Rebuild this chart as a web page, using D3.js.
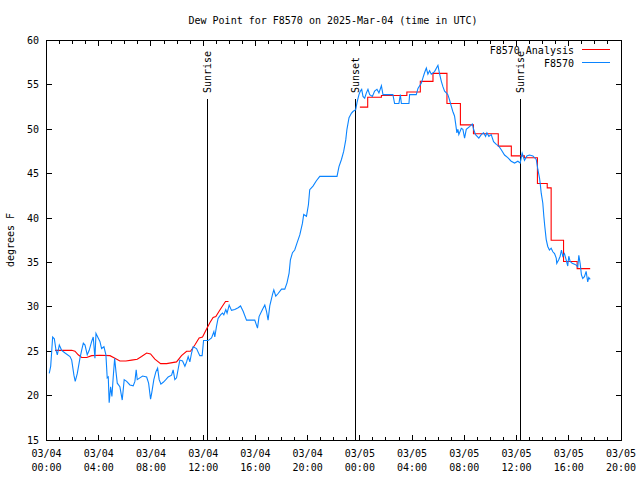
<!DOCTYPE html>
<html><head><meta charset="utf-8">
<script src="https://cdn.jsdelivr.net/npm/d3@7"></script>
<style>body{margin:0;background:#fff}svg{display:block}text{font-family:"DejaVu Sans Mono",monospace;font-size:10px;fill:#000}</style>
</head><body><svg id="c" width="640" height="480"></svg>
<script>
// ---- data (hours since 2025-03-04 00:00 UTC) ----
const title = "Dew Point for F8570 on 2025-Mar-04 (time in UTC)";
const yLabel = "degrees F";
const yTicks = [15,20,25,30,35,40,45,50,55,60];
const xTickHours = [0,4,8,12,16,20,24,28,32,36,40,44];
const xTickDates = ["03/04","03/04","03/04","03/04","03/04","03/04","03/05","03/05","03/05","03/05","03/05","03/05"];
const xTickTimes = ["00:00","04:00","08:00","12:00","16:00","20:00","00:00","04:00","08:00","12:00","16:00","20:00"];
const eventNames = ["Sunrise","Sunset","Sunrise"];
const eventHours = [12.33,23.63,36.28];
const seriesNames = ["F8570 Analysis","F8570"];

const obsHours = [0.21,0.32,0.40,0.47,0.60,0.73,0.83,0.98,1.16,1.42,1.80,1.93,2.10,2.20,2.36,2.56,2.69,2.82,2.95,3.12,3.27,3.46,3.58,3.71,3.79,3.96,4.09,4.22,4.40,4.55,4.65,4.73,4.80,4.91,5.01,5.11,5.22,5.32,5.42,5.62,5.80,5.95,6.14,6.39,6.64,6.77,6.87,6.95,7.15,7.36,7.67,7.82,7.97,8.07,8.22,8.38,8.51,8.63,8.76,8.94,9.14,9.32,9.58,9.70,9.83,9.96,10.21,10.42,10.60,10.73,10.85,10.98,11.11,11.23,11.49,11.74,11.92,12.03,12.38,12.64,12.82,12.89,13.02,13.14,13.33,13.48,13.58,13.73,13.83,13.99,14.17,14.42,14.68,14.86,15.06,15.32,15.95,16.16,16.28,16.54,16.72,16.85,16.97,17.10,17.31,17.41,17.56,17.74,18.00,18.25,18.42,18.58,18.68,18.84,19.01,19.19,19.40,19.60,19.70,19.91,20.06,20.16,20.41,20.67,20.93,22.25,22.40,22.59,22.76,22.92,23.01,23.17,23.35,23.47,23.68,23.78,23.93,24.04,24.14,24.24,24.37,24.50,24.62,24.75,24.96,25.13,25.31,25.46,25.65,25.77,26.53,26.66,26.99,27.10,27.18,27.76,27.81,28.32,28.45,28.71,28.83,28.96,29.09,29.21,29.34,29.47,29.72,29.98,30.11,30.24,30.36,30.49,30.62,30.74,30.87,31.00,31.12,31.25,31.33,31.43,31.51,31.58,31.77,31.89,32.02,32.15,32.40,32.61,32.71,32.86,33.11,33.30,33.47,33.63,33.73,33.88,34.06,34.24,34.45,34.64,34.83,35.08,35.33,35.59,35.85,36.10,36.28,36.43,36.61,36.79,36.99,37.25,37.51,37.63,37.76,37.81,37.89,38.01,38.09,38.16,38.27,38.39,38.52,38.65,38.78,38.91,39.04,39.08,39.23,39.34,39.44,39.54,39.67,39.80,39.92,40.00,40.11,40.26,40.44,40.57,40.69,40.77,40.87,40.97,41.07,41.20,41.33,41.45,41.53,41.64];
const obsValues = [22.5,23.3,25.0,26.6,26.4,25.1,24.6,25.7,25.1,24.8,24.4,24.0,22.3,21.6,22.5,24.2,25.1,25.9,25.7,24.6,25.1,26.1,26.6,24.2,27.0,26.5,26.1,25.3,25.5,24.6,22.0,22.1,19.2,21.0,19.9,22.1,24.2,22.7,21.4,21.0,19.5,21.8,21.6,21.2,21.1,21.6,22.9,21.8,22.0,22.2,22.1,21.4,19.6,20.4,21.8,22.7,23.1,21.8,21.3,21.5,21.8,22.1,22.3,22.9,21.8,22.0,24.0,23.9,23.3,23.8,24.4,23.8,24.8,25.5,25.3,24.5,24.5,26.2,26.2,26.5,27.2,26.6,27.8,28.7,29.1,29.3,29.1,29.7,29.3,30.2,29.6,29.7,29.9,30.1,29.5,28.5,28.5,27.6,28.9,29.7,30.2,29.5,28.5,30.1,31.4,31.9,31.2,31.5,32.0,32.0,32.7,33.8,35.3,36.1,36.4,37.2,38.1,39.4,40.4,40.2,41.5,43.2,43.6,44.2,44.7,44.7,45.8,46.6,47.5,48.8,50.0,51.3,51.8,52.0,52.2,53.0,53.9,54.3,54.5,53.7,53.5,54.1,54.5,53.9,53.7,54.3,54.5,54.1,54.9,53.9,53.9,52.9,52.9,53.9,52.9,52.9,53.9,53.9,54.6,55.2,55.8,56.4,56.9,56.2,56.6,56.2,56.5,57.2,56.2,55.4,54.8,54.3,54.1,53.9,53.3,52.6,52.0,51.5,50.7,49.6,50.0,49.4,50.1,50.0,49.0,50.0,50.3,50.6,50.0,49.4,49.0,49.4,49.6,49.2,49.6,49.2,49.4,48.6,48.3,48.1,47.7,47.1,46.8,46.4,46.2,46.4,46.2,47.3,46.5,47.0,47.1,47.0,46.6,45.5,44.5,43.9,42.8,41.7,40.2,39.1,37.6,36.8,36.4,36.6,36.2,36.0,35.5,34.9,35.3,35.7,36.4,35.7,36.0,35.3,34.6,35.7,35.1,34.9,34.8,34.7,34.5,35.8,34.9,33.6,33.2,33.4,34.0,32.8,33.3,33.1];

const anaHours1 = [0.65,1.93,2.18,2.43,2.69,3.08,3.46,4.09,4.86,5.24,5.62,6.08,6.52,6.95,7.28,7.67,7.97,8.30,8.74,9.20,9.96,10.34,10.73,11.03,11.36,11.69,11.95,12.26,12.51,12.76,12.97,13.22,13.48,13.71,13.94];
const anaValues1 = [25.1,25.1,25.0,24.6,24.3,24.3,24.5,24.55,24.5,24.2,23.9,23.9,24.0,24.1,24.4,24.8,24.7,24.1,23.6,23.6,23.8,24.5,25.0,25.0,25.7,26.5,26.6,27.5,28.2,28.8,28.9,29.5,30.1,30.6,30.6];
const anaHours2 = [24.0,24.6,25.65,27.6,28.63,29.6,30.67,31.7,32.7,34.6,35.6,36.6,37.6,38.35,38.65,39.6,40.64,41.64];
const anaValues2 = [52.5,53.6,53.8,54.2,55.4,56.3,52.9,50.5,49.5,48.1,47.0,46.8,43.9,43.4,37.5,35.1,34.3,34.3];

// ---- drawing ----
const svg = d3.select("#c");
const L = 46.5, R = 621, T = 40.5, B = 440;
const x = d3.scaleLinear().domain([0,44]).range([L,R]);
const y = d3.scaleLinear().domain([15,60]).range([B,T]);
const RED = "#ff0000", BLUE = "#0a84ff";

svg.append("text").attr("x",333).attr("y",24).attr("text-anchor","middle").text(title);
svg.append("text").attr("transform","translate(14,240) rotate(-90)").attr("text-anchor","middle").text(yLabel);

const g = svg.append("g").attr("shape-rendering","crispEdges").attr("stroke","#000");
// y ticks left/right
yTicks.forEach(v=>{
  g.append("line").attr("x1",L).attr("x2",L+5).attr("y1",y(v)).attr("y2",y(v));
  g.append("line").attr("x1",R-5).attr("x2",R).attr("y1",y(v)).attr("y2",y(v));
  svg.append("text").attr("x",39).attr("y",y(v)).attr("dy","0.35em").attr("text-anchor","end").text(v);
});
// x ticks: minor every hour, major every 4
d3.range(0,45).forEach(h=>{
  const len = (h%4===0)?5:3;
  g.append("line").attr("x1",x(h)).attr("x2",x(h)).attr("y1",B).attr("y2",B-len);
  g.append("line").attr("x1",x(h)).attr("x2",x(h)).attr("y1",T).attr("y2",T+len);
});
xTickHours.forEach((h,i)=>{
  svg.append("text").attr("x",x(h)).attr("y",456.5).attr("text-anchor","middle").text(xTickDates[i]);
  svg.append("text").attr("x",x(h)).attr("y",470.5).attr("text-anchor","middle").text(xTickTimes[i]);
});
// events
eventHours.forEach((h,i)=>{
  g.append("line").attr("x1",Math.round(x(h))+0.5).attr("x2",Math.round(x(h))+0.5).attr("y1",99).attr("y2",B);
  svg.append("text").attr("transform",`translate(${Math.round(x(h))+0.5},93) rotate(-90)`).attr("dy","0.35em").text(eventNames[i]);
});

const line = d3.line().x(d=>x(d[0])).y(d=>y(d[1]));
const stepLine = d3.line().x(d=>x(d[0])).y(d=>y(d[1])).curve(d3.curveStepAfter);
svg.append("path").attr("d",line(d3.zip(anaHours1,anaValues1))).attr("fill","none").attr("stroke",RED).attr("stroke-width",1.1);
svg.append("path").attr("d",stepLine(d3.zip(anaHours2,anaValues2))).attr("fill","none").attr("stroke",RED).attr("stroke-width",1.1);
svg.append("path").attr("d",line(d3.zip(obsHours,obsValues))).attr("fill","none").attr("stroke",BLUE).attr("stroke-width",1.1);

// legend
[RED,BLUE].forEach((c,i)=>{
  svg.append("text").attr("x",574).attr("y",50+i*13).attr("dy","0.35em").attr("text-anchor","end").text(seriesNames[i]);
  svg.append("line").attr("x1",582).attr("x2",610).attr("y1",49.5+i*13).attr("y2",49.5+i*13).attr("stroke",c).attr("shape-rendering","crispEdges");
});

// border
g.append("rect").attr("x",L).attr("y",T).attr("width",R-L).attr("height",B-T).attr("fill","none");
</script></body></html>
